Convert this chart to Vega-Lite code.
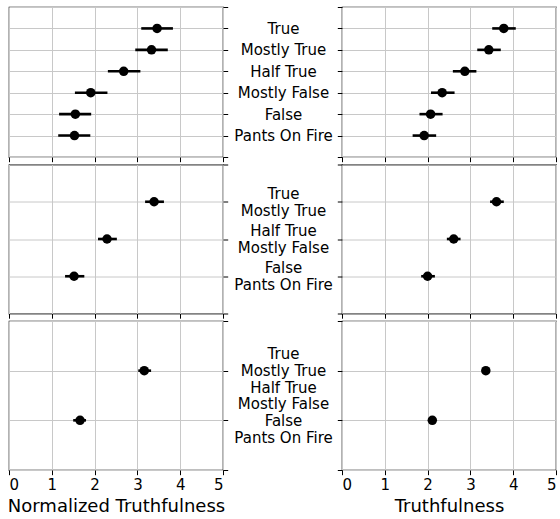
{
  "$schema": "https://vega.github.io/schema/vega-lite/v6.json",
  "padding": {"left": 6, "top": 5, "right": 0, "bottom": 0},
  "bounds": "flush",
  "columns": 2,
  "spacing": {"row": 7.5, "column": 119},
  "background": "white",
  "config": {
    "view": {"stroke": "black", "strokeWidth": 1.2},
    "axis": {
      "domain": false,
      "tickColor": "black",
      "tickSize": 4.7,
      "tickWidth": 1,
      "gridColor": "#c8c8c8",
      "gridWidth": 1,
      "labelFont": "DejaVu Sans",
      "labelFontSize": 15,
      "labelColor": "black",
      "titleFont": "DejaVu Sans",
      "titleFontSize": 18,
      "titleFontWeight": "normal",
      "titleColor": "black"
    }
  },
  "datasets": {
    "pts": [
      {"row": 1, "panel": "n", "label": "True", "value": 3.46, "lo": 3.09, "hi": 3.83},
      {"row": 1, "panel": "n", "label": "Mostly True", "value": 3.33, "lo": 2.95, "hi": 3.71},
      {"row": 1, "panel": "n", "label": "Half True", "value": 2.68, "lo": 2.31, "hi": 3.07},
      {"row": 1, "panel": "n", "label": "Mostly False", "value": 1.91, "lo": 1.54, "hi": 2.30},
      {"row": 1, "panel": "n", "label": "False", "value": 1.55, "lo": 1.17, "hi": 1.92},
      {"row": 1, "panel": "n", "label": "Pants On Fire", "value": 1.53, "lo": 1.15, "hi": 1.90},
      {"row": 1, "panel": "t", "label": "True", "value": 3.78, "lo": 3.51, "hi": 4.06},
      {"row": 1, "panel": "t", "label": "Mostly True", "value": 3.43, "lo": 3.16, "hi": 3.71},
      {"row": 1, "panel": "t", "label": "Half True", "value": 2.87, "lo": 2.59, "hi": 3.14},
      {"row": 1, "panel": "t", "label": "Mostly False", "value": 2.34, "lo": 2.08, "hi": 2.63},
      {"row": 1, "panel": "t", "label": "False", "value": 2.07, "lo": 1.81, "hi": 2.35},
      {"row": 1, "panel": "t", "label": "Pants On Fire", "value": 1.92, "lo": 1.65, "hi": 2.20},
      {"row": 2, "panel": "n", "label": "True|Mostly True", "value": 3.39, "lo": 3.18, "hi": 3.62},
      {"row": 2, "panel": "n", "label": "Half True|Mostly False", "value": 2.29, "lo": 2.08, "hi": 2.52},
      {"row": 2, "panel": "n", "label": "False|Pants On Fire", "value": 1.52, "lo": 1.31, "hi": 1.76},
      {"row": 2, "panel": "t", "label": "True|Mostly True", "value": 3.61, "lo": 3.46, "hi": 3.78},
      {"row": 2, "panel": "t", "label": "Half True|Mostly False", "value": 2.61, "lo": 2.45, "hi": 2.77},
      {"row": 2, "panel": "t", "label": "False|Pants On Fire", "value": 2.0, "lo": 1.85, "hi": 2.17},
      {"row": 3, "panel": "n", "label": "True|Mostly True|Half True", "value": 3.16, "lo": 3.02, "hi": 3.32},
      {"row": 3, "panel": "n", "label": "Mostly False|False|Pants On Fire", "value": 1.66, "lo": 1.50, "hi": 1.80},
      {"row": 3, "panel": "t", "label": "True|Mostly True|Half True", "value": 3.36, "lo": 3.30, "hi": 3.43},
      {"row": 3, "panel": "t", "label": "Mostly False|False|Pants On Fire", "value": 2.11, "lo": 2.05, "hi": 2.17}
    ]
  },
  "data": {"name": "pts"},
  "concat": [
    {
      "width": 214, "height": 150,
      "transform": [{"filter": "datum.row == 1 && datum.panel == 'n'"}],
      "encoding": {
        "y": {"field": "label", "type": "nominal",
          "scale": {"type": "point", "padding": 0, "domain": [" ", "True", "Mostly True", "Half True", "Mostly False", "False", "Pants On Fire", "  "]},
          "axis": {"orient": "right", "labels": false, "title": null, "grid": true}}
      },
      "layer": [
        {"mark": {"type": "rule", "color": "black", "strokeWidth": 2.6},
         "encoding": {"x": {"field": "lo", "type": "quantitative", "scale": {"domain": [0, 5], "nice": false}, "axis": {"values": [0, 1, 2, 3, 4, 5], "labels": false, "title": null}}, "x2": {"field": "hi"}}},
        {"mark": {"type": "point", "filled": true, "color": "black", "opacity": 1, "size": 90},
         "encoding": {"x": {"field": "value", "type": "quantitative"}}}
      ]
    },
    {
      "width": 214, "height": 150,
      "transform": [{"filter": "datum.row == 1 && datum.panel == 't'"}],
      "encoding": {
        "y": {"field": "label", "type": "nominal",
          "scale": {"type": "point", "padding": 0, "domain": [" ", "True", "Mostly True", "Half True", "Mostly False", "False", "Pants On Fire", "  "]},
          "axis": {"orient": "left", "title": null, "grid": true, "labelAlign": "center", "labelBaseline": "middle", "labelPadding": 54.3, "labelLineHeight": 16.7, "labelExpr": "split(datum.label, '|')",
            "labelFontSize": {"condition": {"test": "trim(datum.value) == ''", "value": 0}, "value": 15}}}
      },
      "layer": [
        {"mark": {"type": "rule", "color": "black", "strokeWidth": 2.6},
         "encoding": {"x": {"field": "lo", "type": "quantitative", "scale": {"domain": [0, 5], "nice": false}, "axis": {"values": [0, 1, 2, 3, 4, 5], "labels": false, "title": null}}, "x2": {"field": "hi"}}},
        {"mark": {"type": "point", "filled": true, "color": "black", "opacity": 1, "size": 90},
         "encoding": {"x": {"field": "value", "type": "quantitative"}}}
      ]
    },
    {
      "width": 214, "height": 149,
      "transform": [{"filter": "datum.row == 2 && datum.panel == 'n'"}],
      "encoding": {
        "y": {"field": "label", "type": "nominal",
          "scale": {"type": "point", "padding": 0, "domain": [" ", "True|Mostly True", "Half True|Mostly False", "False|Pants On Fire", "  "]},
          "axis": {"orient": "right", "labels": false, "title": null, "grid": true}}
      },
      "layer": [
        {"mark": {"type": "rule", "color": "black", "strokeWidth": 2.6},
         "encoding": {"x": {"field": "lo", "type": "quantitative", "scale": {"domain": [0, 5], "nice": false}, "axis": {"values": [0, 1, 2, 3, 4, 5], "labels": false, "title": null}}, "x2": {"field": "hi"}}},
        {"mark": {"type": "point", "filled": true, "color": "black", "opacity": 1, "size": 90},
         "encoding": {"x": {"field": "value", "type": "quantitative"}}}
      ]
    },
    {
      "width": 214, "height": 149,
      "transform": [{"filter": "datum.row == 2 && datum.panel == 't'"}],
      "encoding": {
        "y": {"field": "label", "type": "nominal",
          "scale": {"type": "point", "padding": 0, "domain": [" ", "True|Mostly True", "Half True|Mostly False", "False|Pants On Fire", "  "]},
          "axis": {"orient": "left", "title": null, "grid": true, "labelAlign": "center", "labelBaseline": "middle", "labelPadding": 54.3, "labelLineHeight": 16.7, "labelOffset": -8.3, "labelExpr": "split(datum.label, '|')",
            "labelFontSize": {"condition": {"test": "trim(datum.value) == ''", "value": 0}, "value": 15}}}
      },
      "layer": [
        {"mark": {"type": "rule", "color": "black", "strokeWidth": 2.6},
         "encoding": {"x": {"field": "lo", "type": "quantitative", "scale": {"domain": [0, 5], "nice": false}, "axis": {"values": [0, 1, 2, 3, 4, 5], "labels": false, "title": null}}, "x2": {"field": "hi"}}},
        {"mark": {"type": "point", "filled": true, "color": "black", "opacity": 1, "size": 90},
         "encoding": {"x": {"field": "value", "type": "quantitative"}}}
      ]
    },
    {
      "width": 214, "height": 149,
      "transform": [{"filter": "datum.row == 3 && datum.panel == 'n'"}],
      "encoding": {
        "y": {"field": "label", "type": "nominal",
          "scale": {"type": "point", "padding": 0, "domain": [" ", "True|Mostly True|Half True", "Mostly False|False|Pants On Fire", "  "]},
          "axis": {"orient": "right", "labels": false, "title": null, "grid": true}}
      },
      "layer": [
        {"mark": {"type": "rule", "color": "black", "strokeWidth": 2.6},
         "encoding": {"x": {"field": "lo", "type": "quantitative", "scale": {"domain": [0, 5], "nice": false}, "axis": {"values": [0, 1, 2, 3, 4, 5], "title": "Normalized Truthfulness", "labelPadding": 2.5, "titlePadding": 5}}, "x2": {"field": "hi"}}},
        {"mark": {"type": "point", "filled": true, "color": "black", "opacity": 1, "size": 90},
         "encoding": {"x": {"field": "value", "type": "quantitative"}}}
      ]
    },
    {
      "width": 214, "height": 149,
      "transform": [{"filter": "datum.row == 3 && datum.panel == 't'"}],
      "encoding": {
        "y": {"field": "label", "type": "nominal",
          "scale": {"type": "point", "padding": 0, "domain": [" ", "True|Mostly True|Half True", "Mostly False|False|Pants On Fire", "  "]},
          "axis": {"orient": "left", "title": null, "grid": true, "labelAlign": "center", "labelBaseline": "middle", "labelPadding": 54.3, "labelLineHeight": 16.7, "labelOffset": -16.7, "labelExpr": "split(datum.label, '|')",
            "labelFontSize": {"condition": {"test": "trim(datum.value) == ''", "value": 0}, "value": 15}}}
      },
      "layer": [
        {"mark": {"type": "rule", "color": "black", "strokeWidth": 2.6},
         "encoding": {"x": {"field": "lo", "type": "quantitative", "scale": {"domain": [0, 5], "nice": false}, "axis": {"values": [0, 1, 2, 3, 4, 5], "title": "Truthfulness", "labelPadding": 2.5, "titlePadding": 5}}, "x2": {"field": "hi"}}},
        {"mark": {"type": "point", "filled": true, "color": "black", "opacity": 1, "size": 90},
         "encoding": {"x": {"field": "value", "type": "quantitative"}}}
      ]
    }
  ]
}
